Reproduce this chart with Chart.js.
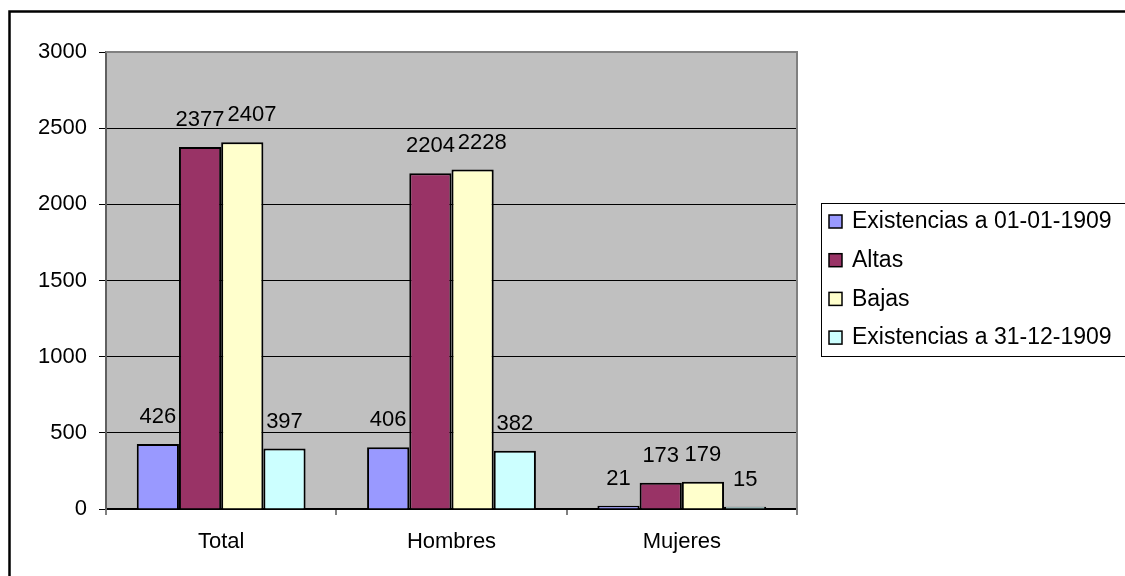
<!DOCTYPE html>
<html>
<head>
<meta charset="utf-8">
<script src="https://cdn.jsdelivr.net/npm/chart.js@4/dist/chart.umd.min.js"></script>
<style>
  html, body { margin: 0; padding: 0; background: #fff; }
  canvas { display: block; }
</style>
</head>
<body>
<canvas id="myChart" width="1125" height="576"></canvas>
<script>
const categories = ['Total', 'Hombres', 'Mujeres'];
const seriesNames = ['Existencias a 01-01-1909', 'Altas', 'Bajas', 'Existencias a 31-12-1909'];
const existencias1 = [426, 406, 21];
const altas = [2377, 2204, 173];
const bajas = [2407, 2228, 179];
const existencias2 = [397, 382, 15];
const yTicks = [0, 500, 1000, 1500, 2000, 2500, 3000];
const colors = ['#9999FF', '#993366', '#FFFFCC', '#CCFFFF'];

const FONT = "'Liberation Sans', Arial, sans-serif";

// gray plot area + its border
const plotArea = {
  id: 'plotArea',
  beforeDraw(chart) {
    const { ctx, chartArea: a } = chart;
    ctx.save();
    ctx.fillStyle = '#C0C0C0';
    ctx.fillRect(a.left, a.top, a.right - a.left, a.bottom - a.top);
    ctx.restore();
  },
  beforeDatasetsDraw(chart) {
    const { ctx, chartArea: a } = chart;
    ctx.save();
    ctx.strokeStyle = '#808080';
    ctx.lineWidth = 2;
    ctx.beginPath();
    ctx.moveTo(a.left, a.top);
    ctx.lineTo(a.right, a.top);
    ctx.lineTo(a.right, a.bottom + 6);
    ctx.stroke();
    ctx.restore();
  }
};

// value above each bar, nudged right when it runs into the one before
const valueLabels = {
  id: 'valueLabels',
  afterDatasetsDraw(chart) {
    const { ctx } = chart;
    ctx.save();
    ctx.font = '22px ' + FONT;
    ctx.fillStyle = '#000';
    ctx.textAlign = 'center';
    ctx.textBaseline = 'middle';
    const n = chart.data.labels.length;
    for (let j = 0; j < n; j++) {
      let prev = null;
      chart.data.datasets.forEach((ds, i) => {
        const bar = chart.getDatasetMeta(i).data[j];
        const txt = String(ds.data[j]);
        const w = ctx.measureText(txt).width;
        let x = bar.x, y = bar.y - 27;
        if (prev && Math.abs(prev.y - y) < 17) {
          const overlap = (prev.x + prev.w / 2) - (x - w / 2);
          if (overlap > 1) {
            x += Math.min(overlap + 3, 10);
            if ((prev.x + prev.w / 2) > (x - w / 2) + 1) y = prev.y - 17;
          }
        }
        ctx.fillText(txt, x, y);
        prev = { x, y, w };
      });
    }
    ctx.restore();
  }
};

// legend box on the right and the outer frame
const sideLegend = {
  id: 'sideLegend',
  afterDraw(chart) {
    const { ctx } = chart;
    ctx.save();
    ctx.strokeStyle = '#000';
    ctx.lineWidth = 1;
    ctx.strokeRect(821.5, 203.5, 400, 153);

    ctx.font = '23px ' + FONT;
    ctx.textBaseline = 'middle';
    ctx.textAlign = 'left';
    chart.data.datasets.forEach((ds, i) => {
      const y = 221 + i * 38.7;
      ctx.fillStyle = ds.backgroundColor;
      ctx.fillRect(829, y - 6, 13, 13);
      ctx.lineWidth = 1.5;
      ctx.strokeStyle = '#000';
      ctx.strokeRect(829, y - 6, 13, 13);
      ctx.fillStyle = '#000';
      ctx.fillText(ds.label, 852, y + 1);
    });

    ctx.lineWidth = 2.5;
    ctx.strokeRect(9.5, 11.5, 1300, 800);
    ctx.restore();
  }
};

const datasets = [existencias1, altas, bajas, existencias2].map((d, i) => ({
  label: seriesNames[i],
  data: d,
  backgroundColor: colors[i],
  borderColor: '#000',
  borderWidth: 2,
  borderSkipped: 'bottom',
  barPercentage: 1,
  categoryPercentage: 0.733
}));

const ctx = document.getElementById('myChart').getContext('2d');
let myChart = new Chart(ctx, {
  type: 'bar',
  data: { labels: categories, datasets: datasets },
  options: {
    responsive: false,
    animation: false,
    layout: { padding: { left: 0, top: 52, right: 328, bottom: 0 } },
    plugins: {
      legend: { display: false },
      tooltip: { enabled: false }
    },
    scales: {
      x: {
        grid: {
          offset: true,
          drawOnChartArea: false,
          tickLength: 6,
          color: '#808080',
          lineWidth: 2
        },
        border: { color: '#000', width: 1.5 },
        ticks: {
          color: '#000',
          padding: 14,
          font: { family: FONT, size: 22 }
        },
        afterFit(scale) { scale.height = 67; }
      },
      y: {
        min: 0,
        max: 3000,
        afterBuildTicks(scale) { scale.ticks = yTicks.map(v => ({ value: v })); },
        grid: {
          color: '#000',
          lineWidth: 1,
          tickLength: 7,
          tickColor: '#000'
        },
        border: { color: '#606060', width: 2 },
        ticks: {
          color: '#000',
          padding: 12,
          font: { family: FONT, size: 22 },
          callback: v => String(v)
        },
        afterFit(scale) { scale.width = 106; }
      }
    }
  },
  plugins: [plotArea, valueLabels, sideLegend]
});
</script>
</body>
</html>
